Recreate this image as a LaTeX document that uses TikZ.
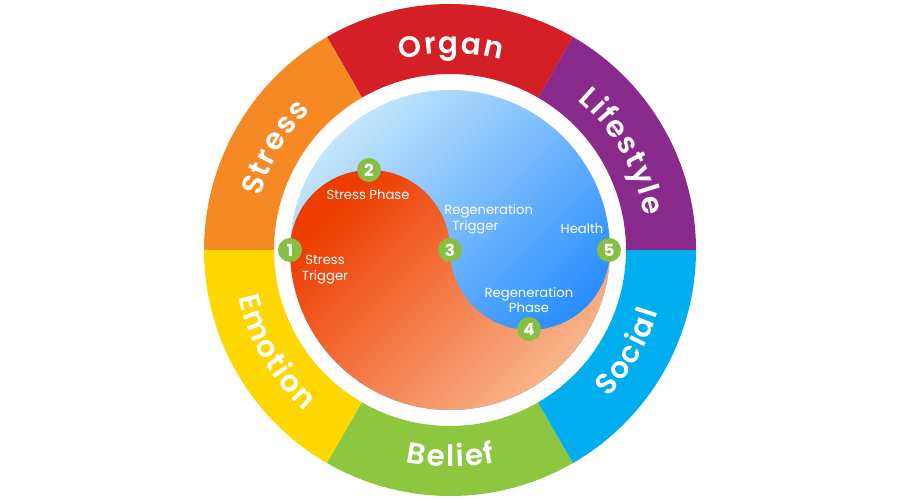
\documentclass[tikz,border=0pt]{standalone}
\usepackage{fontspec}
\setmainfont{Poppins}
\newfontfamily\ringff{Poppins SemiBold}
\usepackage{tikz}
\usetikzlibrary{decorations.text}

\definecolor{organ}{HTML}{D41F26}
\definecolor{stress}{HTML}{F58A25}
\definecolor{emotion}{HTML}{FED700}
\definecolor{belief}{HTML}{8DC63F}
\definecolor{social}{HTML}{00AEEF}
\definecolor{lifestyle}{HTML}{8B2A8D}
\definecolor{numgreen}{HTML}{86BF44}
\definecolor{bluelight}{HTML}{C4E6FB}
\definecolor{bluemid}{HTML}{45AAF7}
\definecolor{bluedeep}{HTML}{1B85FF}
\definecolor{redtop}{HTML}{EE3D00}
\definecolor{redmid}{HTML}{EE4706}
\definecolor{redlow}{HTML}{F8B88E}

\newcommand\ringfont{\ringff\fontsize{16.8}{18}\selectfont\kern1.0pt}

\begin{document}
\begin{tikzpicture} %Rueda
  [
    scale=0.02,
    % estilos de los nodos
    num/.style={circle, fill=numgreen, text=white, minimum size=0.48cm, inner sep=0pt,
      font=\bfseries\fontsize{9.5}{10}\selectfont},
    lbl/.style={text=white, inner sep=0pt, align=center, font=\fontsize{7.5}{9}\selectfont},
    ringtext/.style={decorate, decoration={text along path, text color=white,
      text align=center, text={|\ringfont|#1}}}
  ]
  \fill[white] (-450,-250) rectangle (450,250);
  \useasboundingbox (-450,-250) rectangle (450,250);

  % anillo
  \foreach \a/\b/\c in {60/120/organ, 120/180/stress, 180/240/emotion,
                        240/300/belief, 300/360/social, 0/60/lifestyle}
    \fill[\c] (\a:246) arc[start angle=\a, end angle=\b, radius=246]
      -- (\b:176) arc[start angle=\b, end angle=\a, radius=176] -- cycle;

  \path[ringtext=Organ] (120:197) arc[start angle=120, end angle=60, radius=197];
  \path[ringtext=Stress] (180:197) arc[start angle=180, end angle=120, radius=197];
  \path[ringtext=Lifestyle] (60:197) arc[start angle=60, end angle=0, radius=197];
  \path[ringtext=Emotion] (180:217) arc[start angle=180, end angle=240, radius=217];
  \path[ringtext=Belief] (240:217) arc[start angle=240, end angle=300, radius=217];
  \path[ringtext=Social] (300:217) arc[start angle=300, end angle=360, radius=217];

  % circulo interior
  \shade[top color=bluelight, middle color=bluemid, bottom color=bluedeep, shading angle=45]
    (0,0) circle[radius=160];
  \shade[top color=redtop, middle color=redmid, bottom color=redlow, shading angle=45]
    (-160,0) arc[start angle=180, end angle=0, radius=80]
    arc[start angle=180, end angle=360, radius=80]
    arc[start angle=0, end angle=-180, radius=160] -- cycle;

  \node[num] (n1) at (-160,0) {1};
  \node[num] (n2) at (-81,80) {2};
  \node[num] (n3) at (0,0) {3};
  \node[num] (n4) at (79,-79) {4};
  \node[num] (n5) at (159,0) {5};

  \node[lbl] (l1) at (-125,-20) {Stress\\Trigger};
  \node[lbl] (l2) at (-82,55) {Stress Phase};
  \node[lbl, anchor=west, align=left] (l3) at (-6,31) {Regeneration\\\hspace{4.5pt}Trigger};
  \node[lbl] (l4) at (79,-50) {Regeneration\\Phase};
  \node[lbl] (l5) at (132,21) {Health};

\end{tikzpicture}
\end{document}
